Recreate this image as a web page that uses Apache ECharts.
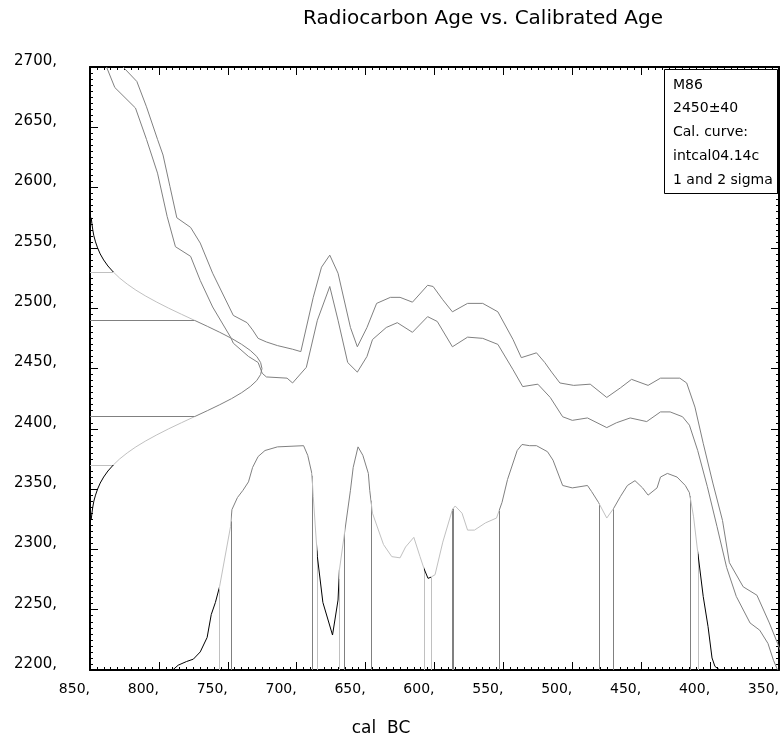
<!DOCTYPE html>
<html><head><meta charset="utf-8">
<script src="https://cdn.jsdelivr.net/npm/echarts@6/dist/echarts.min.js"></script>
<style>html,body{margin:0;padding:0;background:#fff}#c{width:784px;height:740px}</style>
</head><body><div id="c"></div>
<script>
// ---- data ----
const titleText = 'Radiocarbon Age vs. Calibrated Age';
const xAxisName = 'cal  BC';
const legendLines = ['M86', '2450\u00b140', 'Cal. curve:', 'intcal04.14c', '1 and 2 sigma'];

// calibration curve, upper band edge (cal BC, 14C age)
const upperYear = [826,816,809,801,797,792,787,777,770,761,746,736,732,728,722,714,703,697,688,682,676,670,661,656,649,642,632,625,616,605,601,594,587,576,565,554,543,537,526,520,515,509,499,487,475,465,457,445,436,422,417,411,405,398,391,386,376,366,357,351,349];
const upperAge = [2700,2688,2667,2640,2627,2601,2575,2567,2554,2529,2494,2488,2482,2475,2472,2469,2466,2464,2509,2534,2544,2529,2484,2468,2484,2504,2509,2509,2505,2519,2518,2507,2497,2504,2504,2497,2474,2459,2463,2455,2447,2438,2436,2437,2426,2434,2441,2436,2442,2442,2438,2418,2388,2355,2324,2289,2269,2262,2239,2222,2216];

// calibration curve, lower band edge
const lowerYear = [838,832,817,809,801,794,788,777,770,761,748,746,735,728,725,722,707,703,693,685,676,670,663,656,649,645,635,627,616,605,598,587,576,565,554,543,536,525,516,507,500,489,475,468,458,446,436,429,420,415,409,402,395,388,381,371,364,358,354,351];
const lowerAge = [2700,2683,2666,2640,2612,2576,2551,2543,2523,2501,2476,2471,2460,2455,2446,2443,2442,2438,2451,2490,2518,2490,2455,2447,2460,2474,2484,2488,2480,2493,2489,2468,2476,2475,2470,2449,2435,2437,2426,2410,2407,2409,2401,2405,2409,2406,2414,2414,2410,2403,2382,2352,2319,2285,2261,2239,2233,2222,2208,2200];

// calibrated probability distribution (drawn above the 2200 baseline)
const distYear = [800,790,786,780,775,770,765,762,759,756,748,747,743,739,735,732,728,723,714,695,692,689,688,685,681,674,670,669,665,661,659,655.5,652,648,647,645,637,631,625,621,615,610.5,607.6,604.7,602.5,599.6,594,587,585,580,576,571,563,555,551,547,540,536.5,531,526,518,514,507,500,489,486,481,475,470,465,460,454.5,449,445,438.5,436,431,424,418,415,412,409,405,401.5,398.6,396.5,393,380];
const distAge = [2200,2200,2204,2207,2209,2215,2227,2246,2256,2269,2319,2333,2343,2349,2356,2368,2377,2382,2385,2386,2378,2363,2344,2294,2256,2229,2258,2283,2316,2349,2368,2385,2378,2363,2349,2330,2304,2294,2293,2302,2310,2294,2284,2276,2277,2279,2306,2333,2336,2330,2316,2316,2322,2326,2339,2358,2382,2387,2386,2386,2381,2374,2353,2351,2353,2348,2339,2326,2334,2344,2353,2357,2351,2345,2351,2360,2363,2360,2353,2347,2327,2298,2261,2236,2210,2203,2200,2200];

// calibrated ranges (cal BC)
const sigma2Ranges = [[756.4,685.3],[669.3,607.6],[602.5,408.8]];
const sigma1Ranges = [[747.7,688.9],[665.3,646.1],[587.3,586.6],[553.2,480.6],[470.5,414.6]];

// measured 14C age distribution (2450 +/- 40), drawn from the left axis
const gaussAge = [2575,2570,2565,2560,2555,2550,2545,2540,2535,2530,2525,2520,2515,2510,2505,2500,2495,2490,2485,2480,2475,2470,2465,2460,2455,2450,2445,2440,2435,2430,2425,2420,2415,2410,2405,2400,2395,2390,2385,2380,2375,2370,2365,2360,2355,2350,2345,2340,2335,2330,2325];
const gaussYear = [849.1,848.6,848.0,847.2,846.0,844.5,842.6,840.1,837.0,833.1,828.5,823.0,816.7,809.5,801.5,792.9,783.7,774.3,764.9,755.8,747.3,739.9,733.7,729.0,726.2,725.2,726.2,729.0,733.7,739.9,747.3,755.8,764.9,774.3,783.7,792.9,801.5,809.5,816.7,823.0,828.5,833.1,837.0,840.1,842.6,844.5,846.0,847.2,848.0,848.6,849.1];
const gaussSigma1Ages = [2490, 2410];
const gaussSigma2Ages = [2530, 2370];

// ---- build chart ----
const GRAY = '#808080', LIGHT = '#c0c0c0', BLACK = '#000000';
const FONT = '"DejaVu Sans", sans-serif';

function interp(xs, ys, x) {
  for (let i = 0; i < xs.length - 1; i++) {
    const a = xs[i], b = xs[i + 1];
    if ((x - a) * (x - b) <= 0) {
      const t = (b === a) ? 0 : (x - a) / (b - a);
      return ys[i] + t * (ys[i + 1] - ys[i]);
    }
  }
  return ys[ys.length - 1];
}
const zip = (a, b) => a.map((v, i) => [v, b[i]]);
function inRanges(v, ranges) {
  return ranges.some(r => v >= Math.min(r[0], r[1]) && v <= Math.max(r[0], r[1]));
}
const breaks = [...new Set([...sigma1Ranges.flat(), ...sigma2Ranges.flat()])].sort((a, b) => a - b);
const distPieces = [{ lt: breaks[0], color: BLACK }];
for (let i = 0; i < breaks.length - 1; i++) {
  const m = (breaks[i] + breaks[i + 1]) / 2;
  distPieces.push({ gte: breaks[i], lt: breaks[i + 1],
    color: inRanges(m, sigma1Ranges) ? GRAY : (inRanges(m, sigma2Ranges) ? LIGHT : BLACK) });
}
distPieces.push({ gte: breaks[breaks.length - 1], color: BLACK });

const gaussPieces = [
  { lt: Math.min(...gaussSigma2Ages), color: BLACK },
  { gte: Math.min(...gaussSigma2Ages), lt: Math.min(...gaussSigma1Ages), color: LIGHT },
  { gte: Math.min(...gaussSigma1Ages), lt: Math.max(...gaussSigma1Ages), color: GRAY },
  { gte: Math.max(...gaussSigma1Ages), lt: Math.max(...gaussSigma2Ages), color: LIGHT },
  { gte: Math.max(...gaussSigma2Ages), color: BLACK }
];

const vLines = [];
sigma2Ranges.flat().forEach(x => vLines.push({ coords: [[x, 2200], [x, interp(distYear, distAge, x)]], lineStyle: { color: LIGHT } }));
sigma1Ranges.flat().forEach(x => vLines.push({ coords: [[x, 2200], [x, interp(distYear, distAge, x)]], lineStyle: { color: GRAY } }));
gaussSigma2Ages.forEach(y => vLines.push({ coords: [[850, y], [interp(gaussAge, gaussYear, y), y]], lineStyle: { color: LIGHT } }));
gaussSigma1Ages.forEach(y => vLines.push({ coords: [[850, y], [interp(gaussAge, gaussYear, y), y]], lineStyle: { color: GRAY } }));

function axisCommon(showLabel) {
  return {
    axisLine: { show: true, onZero: false, lineStyle: { color: '#000', width: 2 } },
    axisTick: { show: true, inside: true, length: 8, lineStyle: { color: '#000', width: 1 } },
    minorTick: { show: true, splitNumber: 10, length: 3, lineStyle: { color: '#000', width: 1 } },
    splitLine: { show: false }, minorSplitLine: { show: false },
    axisLabel: { show: showLabel }
  };
}
const xBottom = Object.assign(axisCommon(true), {
  type: 'value', min: 350, max: 850, interval: 50, inverse: true, position: 'bottom'
});
xBottom.axisLabel = { show: true, formatter: v => v + ',', fontFamily: FONT, fontSize: 14, color: '#000',
  margin: 12, align: 'right', showMinLabel: true, showMaxLabel: true, hideOverlap: false };
const xTop = Object.assign(axisCommon(false), {
  type: 'value', min: 350, max: 850, interval: 50, inverse: true, position: 'top'
});
const yLeft = Object.assign(axisCommon(true), {
  type: 'value', min: 2200, max: 2700, interval: 50, position: 'left'
});
yLeft.axisLabel = { show: true, formatter: v => v + ',', fontFamily: FONT, fontSize: 15, color: '#000',
  margin: 33, verticalAlign: 'bottom', lineHeight: 12, showMinLabel: true, showMaxLabel: true, hideOverlap: false };
const yRight = Object.assign(axisCommon(false), {
  type: 'value', min: 2200, max: 2700, interval: 50, position: 'right'
});

const graphics = [
  { type: 'text', x: 483, y: 19, z: 100, style: { text: titleText, font: '20px ' + FONT, fill: '#000', align: 'center', verticalAlign: 'middle' } },
  { type: 'text', x: 381, y: 729, z: 100, style: { text: xAxisName, font: '17px ' + FONT, fill: '#000', align: 'center', verticalAlign: 'middle' } },
  { type: 'rect', z: 100, shape: { x: 664.5, y: 69.5, width: 113, height: 124 }, style: { fill: '#fff', stroke: '#000', lineWidth: 1 } }
];
legendLines.forEach((t, i) => graphics.push({
  type: 'text', x: 673, y: 85 + i * 23.8, z: 101,
  style: { text: t, font: '14px ' + FONT, fill: '#000', align: 'left', verticalAlign: 'middle' }
}));

const lineBase = { type: 'line', xAxisIndex: 0, yAxisIndex: 0, showSymbol: false, symbol: 'none', animation: false };

const option = {
  animation: false,
  backgroundColor: '#fff',
  grid: { left: 90, top: 67, width: 689, height: 603, containLabel: false, outerBoundsMode: 'none' },
  xAxis: [xBottom, xTop],
  yAxis: [yLeft, yRight],
  visualMap: [
    { type: 'piecewise', show: false, seriesIndex: 3, dimension: 0, pieces: distPieces },
    { type: 'piecewise', show: false, seriesIndex: 4, dimension: 1, pieces: gaussPieces }
  ],
  graphic: graphics,
  series: [
    { type: 'lines', coordinateSystem: 'cartesian2d', xAxisIndex: 0, yAxisIndex: 0, animation: false, silent: true,
      lineStyle: { width: 1, opacity: 1, curveness: 0 }, data: vLines, z: 2 },
    Object.assign({}, lineBase, { name: 'upper', data: zip(upperYear, upperAge), lineStyle: { color: GRAY, width: 1 }, z: 3 }),
    Object.assign({}, lineBase, { name: 'lower', data: zip(lowerYear, lowerAge), lineStyle: { color: GRAY, width: 1 }, z: 3 }),
    Object.assign({}, lineBase, { name: 'dist', data: zip(distYear, distAge), lineStyle: { width: 1 }, z: 4 }),
    Object.assign({}, lineBase, { name: 'gauss', data: zip(gaussYear, gaussAge), lineStyle: { width: 1 }, z: 4 })
  ]
};
const chart = echarts.init(document.getElementById('c'), null, { renderer: 'canvas' });
chart.setOption(option);
</script>
</body></html>
